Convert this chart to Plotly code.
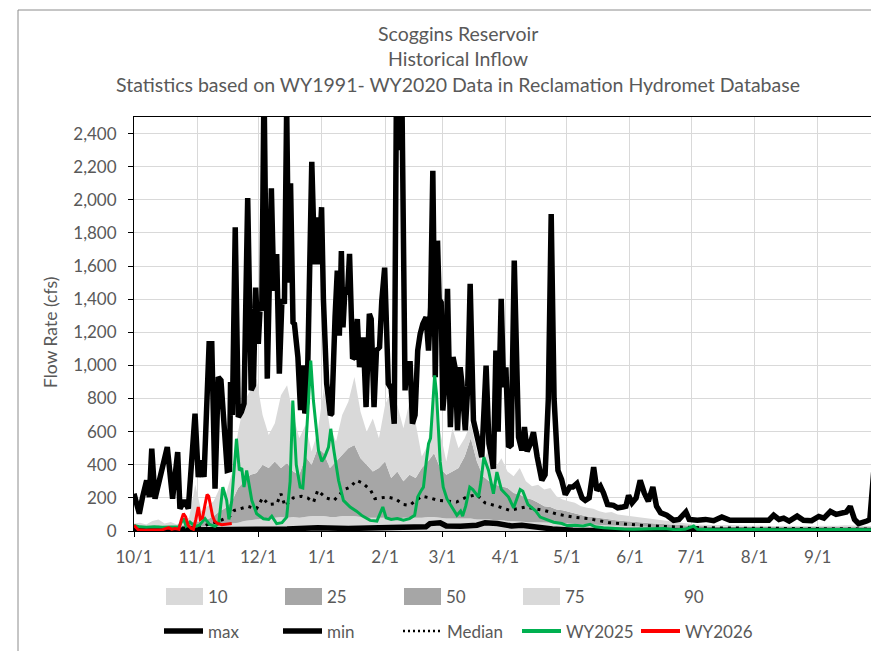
import plotly.graph_objects as go

# ---------------- data ----------------
month_ticks = [0, 31, 61, 92, 123, 151, 182, 212, 243, 273, 304, 335]
month_labels = ["10/1", "11/1", "12/1", "1/1", "2/1", "3/1", "4/1", "5/1", "6/1", "7/1", "8/1", "9/1"]

# day of water year (0 = Oct 1) and flow (cfs)
max_day = [0, 2.6, 4.2, 6.2, 7.5, 8.7, 10.3, 13.1, 16.3, 18.9, 21.4, 22.5, 24.7, 26.6, 29.9, 31.5, 32.8, 34.3,
           36.8, 38.1, 39.7, 41.3, 42.6, 45.7, 46.8, 47.3, 48.2, 49.6, 51.1, 52.6, 53.9, 55.7, 57.4, 58.5, 59.6,
           60.9, 61.8, 62.6, 63.7, 65.3, 67.3, 68.5, 69.9, 71.2, 72.5, 73.7, 74.8, 75.8, 76.7, 77.9, 78.6, 80.3,
           81.6, 82.7, 83.7, 84.8, 87.1, 88.5, 89.8, 90.6, 91.9, 92.8, 94.4, 96.2, 96.9, 98.5, 99.6, 100.6, 101.6,
           102.4, 103.4, 104.6, 105.6, 107.1, 108.0, 109.4, 110.5, 111.3, 112.3, 113.7, 115.3, 116.2, 117.6, 118.8,
           120.3, 121.4, 122.8, 124.6, 126.0, 127.5, 128.6, 129.9, 131.2, 132.8, 133.7, 135.3, 136.4, 137.7, 139.0,
           140.2, 141.5, 143.1, 144.3, 145.3, 146.4, 147.6, 148.7, 149.5, 150.5, 151.3, 152.5, 153.6, 155.0, 156.3,
           157.4, 158.5, 159.8, 160.6, 161.4, 162.3, 163.5, 164.7, 166.3, 167.9, 169.2, 170.4, 172.5, 173.9, 175.3,
           176.1, 177.3, 178.4, 179.9, 181.1, 182.2, 183.5, 184.8, 186.3, 188.4, 190.0, 191.3, 192.6, 194.0, 195.7,
           197.5, 199.8, 201.4, 203.0, 204.4, 205.8, 207.7, 209.5, 211.3, 213.5, 215.0, 217.0, 219.5, 221.1, 223.0,
           225.2, 226.8, 228.5, 230.0, 232.0, 234.9, 237.0, 239.5, 241.0, 242.3, 244.0, 246.0, 248.0, 250.0, 252.0,
           254.2, 256.0, 258.0, 261.0, 264.4, 267.0, 270.4, 272.0, 276.0, 280.0, 284.0, 288.0, 292.0, 296.0, 300.0,
           304.0, 308.0, 311.0, 313.4, 316.0, 318.3, 321.0, 324.9, 328.0, 332.0, 335.5, 338.0, 341.2, 344.0, 347.0,
           349.0, 350.9, 353.0, 355.0, 357.0, 359.0, 360.5, 362.0, 363.0, 364.0]
max_cfs = [225, 105, 205, 306, 205, 497, 195, 346, 507, 195, 476, 135, 185, 135, 708, 326, 426, 326,
           1130, 1130, 256, 929, 910, 366, 370, 900, 700, 1834, 688, 720, 770, 2010, 850, 880, 1470,
           1130, 1350, 1330, 2700, 920, 2070, 1450, 1673, 950, 1400, 1373, 2560, 1500, 2100, 1260, 1250, 1050,
           730, 1000, 710, 790, 2230, 1610, 1894, 1610, 1955, 1400, 890, 700, 710, 1291, 1572, 1180, 1690,
           1230, 1472, 1430, 1673, 1040, 1050, 1280, 990, 1050, 1170, 748, 1311, 1280, 748, 1090,
           1110, 1391, 1590, 889, 860, 648, 2700, 2300, 2700, 849, 1010, 1010, 648, 700, 1090,
           1190, 1250, 1291, 1090, 1350, 2175, 929, 1753, 1400, 1380, 728, 900, 1462, 627, 1050,
           980, 608, 989, 900, 690, 608, 870, 1492, 668, 588, 507, 446, 999, 527, 440,
           376, 1090, 600, 1402, 869, 989, 507, 520, 1633, 567, 487, 627, 480, 520, 597,
           450, 306, 340, 800, 1914, 800, 366, 310, 220, 265, 265, 287, 200, 185, 200,
           386, 245, 270, 230, 160, 155, 140, 145, 150, 215, 170, 200, 306, 230, 180,
           265, 150, 110, 95, 65, 70, 115, 70, 65, 70, 62, 85, 65, 65, 62,
           60, 62, 65, 95, 70, 78, 60, 90, 65, 62, 88, 78, 118, 100, 110,
           115, 148, 70, 45, 50, 60, 70, 300, 446, 400]

min_day = [0, 30, 60, 75, 90, 105, 120, 135, 143, 145, 150, 153, 160, 168, 172, 178, 185, 190, 195, 200, 205, 215, 250, 364]
min_cfs = [3, 4, 8, 12, 20, 15, 20, 20, 25, 45, 50, 30, 28, 35, 50, 45, 30, 35, 25, 20, 12, 5, 3, 3]

median_day = [0, 5, 10, 15, 20, 25, 30, 34, 37, 41, 44, 47, 49, 52, 56, 60, 63, 66, 70, 72,
              74, 78, 82, 85, 88, 90, 94, 98, 103, 106, 109, 112, 116, 118, 124, 128, 132, 135, 141, 145,
              149, 154, 158, 163, 168, 172, 178, 184, 192, 201, 208, 215, 223, 233, 250, 266, 290, 330, 364]
median_cfs = [12, 14, 15, 16, 16, 18, 20, 28, 44, 55, 73, 90, 124, 134, 148, 134, 200, 160, 165, 225,
              150, 200, 210, 200, 175, 245, 200, 185, 250, 265, 306, 290, 245, 195, 205, 195, 160, 155, 210, 200,
              185, 180, 175, 205, 220, 170, 150, 125, 145, 124, 100, 84, 74, 50, 33, 24, 18, 15, 12]

wy2025_day = [0, 3, 6, 10, 14, 18, 22, 24.2, 25.5, 27.4, 30, 32, 34.8, 37, 39.7, 41.5, 43.5, 45.4, 46.5, 47.9,
              50.2, 51.6, 52.8, 53.9, 55.2, 57.7, 60.1, 63.4, 66, 67.5, 69.9, 72.5, 74.8, 76.5, 77.8, 79.5, 81.4,
              82.7, 83.8, 85.5, 86.6, 87.9, 90.4, 92, 93.5, 95.3, 96.4, 98, 100.2, 102.6, 105.9, 109, 112, 115.7,
              119, 121.9, 123.5, 126, 129, 132, 135, 137.5, 139, 140.5, 141.8, 143.2, 144.3, 145.3, 147.3, 148.2,
              150, 151.5, 153.3, 155.5, 158.2, 160, 161, 162.5, 164.5, 166, 168.8, 170, 171.4, 173.7, 176.1, 177.8,
              180, 183.5, 186, 189.2, 190.5, 193, 196.6, 199, 202, 205.6, 209.6, 212.1, 216, 220, 223.5, 226, 230,
              235, 240, 244.8, 250, 255, 260, 265, 270, 274.2, 276, 285, 295, 305, 315, 325, 335, 345, 355, 364]
wy2025_cfs = [34, 25, 22, 25, 22, 25, 25, 75, 30, 54, 28, 35, 75, 40, 28, 45, 265, 185, 70, 185,
              557, 366, 380, 265, 366, 185, 104, 74, 70, 90, 44, 50, 84, 300, 788, 400, 265,
              260, 433, 788, 1029, 788, 487, 420, 450, 507, 617, 480, 306, 185, 145, 120, 90, 64,
              60, 145, 80, 70, 75, 65, 75, 95, 205, 240, 265, 420, 527, 560, 940, 830,
              420, 265, 195, 150, 95, 120, 90, 150, 265, 250, 205, 300, 446, 366, 225, 356,
              250, 205, 140, 250, 240, 160, 124, 84, 70, 53, 45, 33, 35, 30, 40, 25, 20,
              15, 12, 10, 12, 10, 15, 8, 10, 30, 10, 8, 10, 9, 8, 10, 8, 9, 8, 8]

wy2026_day = [0, 1, 2, 5, 10, 14, 17, 18.5, 20, 22, 23, 24.2, 25.3, 26.5, 28, 29.1, 30.3, 31.5, 32.5, 33.6,
              34.8, 35.8, 36.6, 37.5, 38.5, 39.5, 41, 43, 45, 47.9]
wy2026_cfs = [35, 20, 8, 5, 5, 8, 20, 10, 15, 10, 60, 105, 85, 35, 15, 10, 70, 145, 70, 80,
              160, 220, 210, 150, 90, 60, 45, 38, 40, 45]

# percentile bands: top edge of each stacked layer, every 3 days
band_day = [0, 3, 6, 9, 12, 15, 18, 21, 24, 27,
            30, 33, 36, 39, 42, 45, 48, 51, 54, 57,
            60, 63, 66, 69, 72, 75, 78, 81, 84, 87,
            90, 93, 96, 99, 102, 105, 108, 111, 114, 117,
            120, 123, 126, 129, 132, 135, 138, 141, 144, 147,
            150, 153, 156, 159, 162, 165, 168, 171, 174, 177,
            180, 183, 186, 189, 192, 195, 198, 201, 204, 207,
            210, 213, 216, 219, 222, 225, 228, 231, 234, 237,
            240, 243, 246, 249, 252, 255, 258, 261, 264, 267,
            270, 273, 276, 279, 282, 285, 288, 291, 294, 297,
            300, 303, 306, 309, 312, 315, 318, 321, 324, 327,
            330, 333, 336, 339, 342, 345, 348, 351, 354, 357,
            360, 363]
band10_top = [12, 15, 12, 15, 18, 15, 15, 14, 18, 20,
              25, 25, 28, 30, 35, 40, 45, 50, 60, 65,
              70, 75, 80, 80, 85, 80, 85, 80, 85, 90,
              90, 90, 85, 85, 90, 90, 90, 85, 80, 80,
              80, 80, 75, 75, 80, 80, 80, 80, 85, 85,
              80, 75, 75, 75, 75, 75, 70, 70, 70, 65,
              65, 60, 60, 58, 55, 55, 55, 52, 50, 48,
              45, 45, 42, 40, 40, 38, 36, 35, 33, 32,
              30, 28, 27, 26, 25, 24, 23, 22, 21, 20,
              19, 18, 18, 17, 17, 16, 16, 16, 15, 15,
              15, 15, 14, 14, 14, 14, 13, 13, 13, 13,
              13, 13, 13, 13, 13, 12, 12, 12, 12, 12,
              12, 12]
band50_top = [25, 28, 22, 30, 35, 28, 30, 25, 35, 40,
              60, 55, 70, 90, 120, 140, 180, 260, 300, 340,
              350, 400, 380, 420, 380, 410, 360, 340, 450, 400,
              500, 470, 380, 420, 460, 500, 520, 440, 400, 360,
              380, 420, 320, 360, 300, 340, 320, 380, 420, 470,
              380, 340, 360, 380, 450, 560, 420, 330, 300, 280,
              270, 260, 230, 220, 200, 190, 170, 150, 145, 130,
              125, 115, 105, 95, 88, 84, 78, 72, 68, 64,
              60, 56, 54, 50, 48, 45, 42, 40, 38, 36,
              34, 32, 30, 28, 27, 26, 25, 25, 24, 24,
              23, 23, 22, 22, 22, 21, 21, 21, 20, 20,
              20, 20, 20, 20, 20, 20, 20, 20, 20, 20,
              20, 20]
band75_top = [45, 50, 40, 60, 70, 45, 55, 40, 60, 80,
              280, 120, 150, 180, 260, 220, 350, 600, 780, 850,
              920, 700, 580, 650, 820, 880, 700, 560, 640, 480,
              600, 860, 620, 540, 700, 780, 930, 720, 600, 680,
              560, 760, 850, 760, 620, 780, 650, 450, 520, 880,
              600, 420, 620, 500, 560, 650, 480, 420, 500, 380,
              440, 360, 330, 380, 300, 270, 280, 250, 260, 210,
              190, 180, 170, 150, 140, 135, 120, 110, 115, 100,
              95, 90, 85, 80, 75, 70, 65, 60, 55, 50,
              45, 42, 40, 38, 40, 36, 35, 36, 34, 33,
              34, 32, 33, 31, 32, 30, 31, 30, 32, 30,
              31, 30, 32, 31, 33, 32, 34, 33, 32, 31,
              30, 30]

title_lines = ["Scoggins Reservoir", "Historical Inflow",
               "Statistics based on WY1991- WY2020 Data in Reclamation Hydromet Database"]
band_legend = ["10", "25", "50", "75", "90"]
line_legend = ["max", "min", "Median", "WY2025", "WY2026"]

# ---------------- styling ----------------
FONT = "Lato"
TXT = "#595959"
LIGHT = "#d9d9d9"
DARK = "#a6a6a6"
GREEN = "#00b050"
RED = "#ff0000"

# the page body adds an 8 px offset; the figure is sized so that it ends at the window edge
OFF = 8
W, H = 879 - OFF, 651 - OFF
L, R, T, B = 134 - OFF, 0, 117 - OFF, 120
PW, PH = W - L - R, H - T - B


def px(x):
    # reference window pixel x -> paper coordinate
    return (x - OFF - L) / PW


def py(y):
    # reference window pixel y -> paper coordinate
    return (H - B - (y - OFF)) / PH


fig = go.Figure()
fig.add_trace(go.Scatter(x=band_day, y=band10_top, mode="lines", line=dict(width=0),
                         fill="tozeroy", fillcolor=LIGHT, name="10", hoverinfo="skip"))
fig.add_trace(go.Scatter(x=band_day, y=band50_top, mode="lines", line=dict(width=0),
                         fill="tonexty", fillcolor=DARK, name="25-50", hoverinfo="skip"))
fig.add_trace(go.Scatter(x=band_day, y=band75_top, mode="lines", line=dict(width=0),
                         fill="tonexty", fillcolor=LIGHT, name="75", hoverinfo="skip"))
fig.add_trace(go.Scatter(x=max_day, y=max_cfs, mode="lines", name="max",
                         line=dict(color="black", width=5.5)))
fig.add_trace(go.Scatter(x=min_day, y=min_cfs, mode="lines", name="min",
                         line=dict(color="black", width=5.5)))
fig.add_trace(go.Scatter(x=median_day, y=median_cfs, mode="lines", name="Median",
                         line=dict(color="black", width=3, dash="3px,5px")))
fig.add_trace(go.Scatter(x=wy2025_day, y=wy2025_cfs, mode="lines", name="WY2025",
                         line=dict(color=GREEN, width=3)))
fig.add_trace(go.Scatter(x=wy2026_day, y=wy2026_cfs, mode="lines", name="WY2026",
                         line=dict(color=RED, width=3)))

axis_common = dict(showgrid=True, gridcolor="#d9d9d9", gridwidth=1, zeroline=False,
                   showline=True, linecolor="black", linewidth=1, mirror=True,
                   ticks="outside", ticklen=5, tickcolor="black",
                   tickfont=dict(family=FONT, size=17, color=TXT))
fig.update_xaxes(range=[0, 365], tickvals=month_ticks, ticktext=month_labels,
                 ticklabelstandoff=6, **axis_common)
fig.update_yaxes(range=[0, 2500], tick0=0, dtick=200, tickformat=",d",
                 ticklabelstandoff=8, **axis_common)

annotations = []
for text, yy in zip(title_lines, [33, 58, 84]):
    annotations.append(dict(text=text, xref="paper", yref="paper", x=px(458), y=py(yy),
                            xanchor="center", yanchor="middle", showarrow=False,
                            font=dict(family=FONT, size=19.5, color=TXT)))
annotations.append(dict(text="Flow Rate (cfs)", xref="paper", yref="paper", x=px(50), y=py(333),
                        textangle=-90, xanchor="center", yanchor="middle", showarrow=False,
                        font=dict(family=FONT, size=17.5, color=TXT)))

shapes = [dict(type="rect", xref="paper", yref="paper", x0=px(18), x1=px(900), y0=py(10), y1=py(700),
               line=dict(color="#8c8c8c", width=1), fillcolor="rgba(0,0,0,0)", layer="below")]

# legend row 1: band swatches
sw_x = [166, 285, 404, 523, 642]
sw_col = [LIGHT, DARK, DARK, LIGHT, "white"]
for lab, x0, c in zip(band_legend, sw_x, sw_col):
    shapes.append(dict(type="rect", xref="paper", yref="paper", x0=px(x0), x1=px(x0 + 37),
                       y0=py(605), y1=py(588), line=dict(width=0), fillcolor=c))
    annotations.append(dict(text=lab, xref="paper", yref="paper", x=px(x0 + 40), y=py(596),
                            xanchor="left", yanchor="middle", showarrow=False,
                            font=dict(family=FONT, size=17, color=TXT)))

# legend row 2: line samples
ln_x = [164, 283, 403, 522, 641]
ln_style = [dict(color="black", width=5.5), dict(color="black", width=5.5),
            dict(color="black", width=2.5, dash="2px,3px"), dict(color=GREEN, width=4),
            dict(color=RED, width=4)]
for lab, x0, st in zip(line_legend, ln_x, ln_style):
    shapes.append(dict(type="line", xref="paper", yref="paper", x0=px(x0), x1=px(x0 + 39),
                       y0=py(631), y1=py(631), line=st))
    annotations.append(dict(text=lab, xref="paper", yref="paper", x=px(x0 + 42), y=py(631),
                            xanchor="left", yanchor="middle", showarrow=False,
                            font=dict(family=FONT, size=17, color=TXT)))

fig.update_layout(width=W, height=H, margin=dict(l=L, r=R, t=T, b=B, autoexpand=False),
                  paper_bgcolor="white", plot_bgcolor="white", showlegend=False,
                  font=dict(family=FONT, color=TXT),
                  annotations=annotations, shapes=shapes)

fig.write_html("out.html")
